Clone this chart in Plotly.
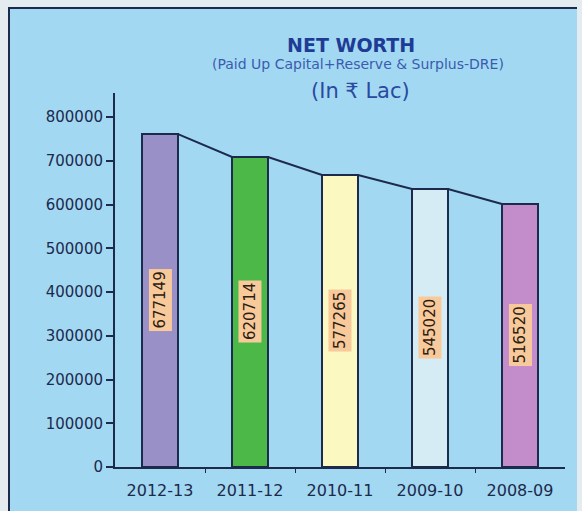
import plotly.graph_objects as go

# ---- data ----
years = ["2012-13", "2011-12", "2010-11", "2009-10", "2008-09"]
bar_heights = [761000, 708600, 667400, 635400, 601100]   # drawn heights
net_worth_labels = [677149, 620714, 577265, 545020, 516520]  # printed values
bar_colors = ["#9a90c8", "#4cb848", "#fbf8c2", "#d6ecf4", "#c38dcc"]
y_ticks = [0, 100000, 200000, 300000, 400000, 500000, 600000, 700000, 800000]

BG = "#a3d8f2"
NAVY = "#1c2a4c"
BW = 0.4

idx = list(range(len(years)))

fig = go.Figure()

fig.add_trace(go.Bar(
    x=idx, y=bar_heights, width=BW,
    marker=dict(color=bar_colors, line=dict(color=NAVY, width=2)),
    hoverinfo="skip", showlegend=False,
))

# connecting line: right top of each bar to left top of the next
lx, ly = [], []
for i in range(len(years) - 1):
    lx += [i + BW / 2, i + 1 - BW / 2]
    ly += [bar_heights[i], bar_heights[i + 1]]
fig.add_trace(go.Scatter(x=lx, y=ly, mode="lines",
                         line=dict(color=NAVY, width=2),
                         hoverinfo="skip", showlegend=False))

# value labels (rotated, peach boxes)
for i, (h, v) in enumerate(zip(bar_heights, net_worth_labels)):
    fig.add_annotation(x=i, y=h / 2, text=str(v), showarrow=False,
                       textangle=-90, bgcolor="#f8c99a", borderpad=2,
                       font=dict(family="DejaVu Sans", size=15, color="#2a2010"))

# titles
fig.add_annotation(xref="paper", yref="paper", x=0.524, y=1.163, text="<b>NET WORTH</b>",
                   showarrow=False, font=dict(family="DejaVu Sans", size=19, color="#1e3c96"))
fig.add_annotation(xref="paper", yref="paper", x=0.54, y=1.105,
                   text="(Paid Up Capital+Reserve & Surplus-DRE)",
                   showarrow=False, font=dict(family="DejaVu Sans", size=14, color="#3a5cb0"))
fig.add_annotation(xref="paper", yref="paper", x=0.545, y=1.042, text="(In ₹ Lac)",
                   showarrow=False, font=dict(family="DejaVu Sans", size=21, color="#2a4aa0"))

# outer decoration: light strips and dark frame lines
L, R, T, B = 115, 565, 93, 467
def px(xp):
    return (xp - L) / (R - L)
def py(yp):
    return (B - yp) / (B - T)

strip = "#e4ecf0"
fig.add_shape(type="rect", xref="paper", yref="paper", x0=px(0), x1=px(8), y0=py(520), y1=py(0),
              fillcolor=strip, line=dict(width=0), layer="below")
fig.add_shape(type="rect", xref="paper", yref="paper", x0=px(0), x1=px(582), y0=py(7), y1=py(0),
              fillcolor=strip, line=dict(width=0), layer="below")
fig.add_shape(type="rect", xref="paper", yref="paper", x0=px(577), x1=px(582), y0=py(520), y1=py(0),
              fillcolor=strip, line=dict(width=0), layer="below")
fig.add_shape(type="line", xref="paper", yref="paper", x0=px(9), x1=px(9), y0=py(520), y1=py(8),
              line=dict(color=NAVY, width=2))
fig.add_shape(type="line", xref="paper", yref="paper", x0=px(8), x1=px(577), y0=py(8), y1=py(8),
              line=dict(color=NAVY, width=2))

fig.update_layout(
    width=582, height=511,
    margin=dict(l=L, r=582 - R, t=T, b=511 - B),
    paper_bgcolor=BG, plot_bgcolor="rgba(0,0,0,0)",
    xaxis=dict(range=[-0.5, 4.5], tickvals=idx, ticktext=years, ticks="",
               ticklabelstandoff=8,
               showgrid=False, zeroline=False, showline=True, linecolor=NAVY, linewidth=2,
               tickfont=dict(family="DejaVu Sans", size=16, color=NAVY),
               minor=dict(tickvals=[0.5, 1.5, 2.5, 3.5], ticks="outside", ticklen=4,
                          tickcolor=NAVY, tickwidth=1, showgrid=False)),
    yaxis=dict(range=[0, 855000], tickvals=y_ticks, ticktext=[str(t) for t in y_ticks],
               ticks="outside", ticklen=7, tickwidth=2, tickcolor=NAVY,
               showgrid=False, zeroline=False, showline=True, linecolor=NAVY, linewidth=2,
               tickfont=dict(family="DejaVu Sans", size=15, color=NAVY)),
)

fig.write_html("out.html", config={"displayModeBar": False},
               post_script="document.body.style.margin='0px';")
